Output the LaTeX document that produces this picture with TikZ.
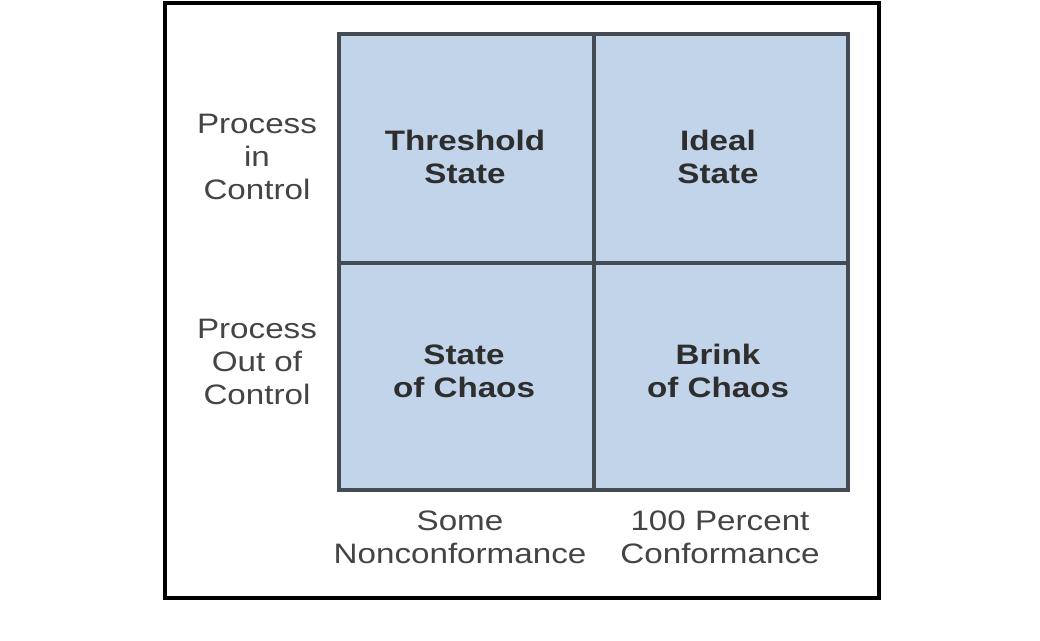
\documentclass[tikz,border=0pt]{standalone}
\usepackage{fontspec}
\setmainfont{Liberation Sans}[FakeStretch=1.18]
\definecolor{cellblue}{HTML}{C2D4EA}
\definecolor{gridgray}{HTML}{454B53}
\definecolor{boldgray}{HTML}{2E2E2E}
\definecolor{labelgray}{HTML}{444444}
\tikzset{
  celltext/.style={font=\fontsize{20}{23.5}\selectfont\bfseries, text=boldgray, align=center, inner sep=0pt},
  axistext/.style={font=\fontsize{20}{23.5}\selectfont, text=labelgray, align=center, inner sep=0pt}
}
\begin{document}
\begin{tikzpicture}[x=0.025cm,y=-0.025cm]
\def\gl{339};%grid left
\def\gr{848};
\def\gt{34};
\def\gb{490};
\def\mx{594};
\def\my{263};
\useasboundingbox (0,0) rectangle (1040,640);
\fill[white] (0,0) rectangle (1040,640);
\draw[line width=2.6pt] (165,3) rectangle (879,598);
\filldraw[fill=cellblue,draw=gridgray,line width=2.3pt] (\gl,\gt) rectangle (\gr,\gb);
\draw[gridgray,line width=2.3pt] (\mx,\gt) -- (\mx,\gb);
\draw[gridgray,line width=2.3pt] (\gl,\my) -- (\gr,\my);
% cell texts
\node[celltext] (threshold) at (465,157) {Threshold\\State};
\node[celltext] (ideal) at (718,157) {Ideal\\State};
\node[celltext] (chaos) at (464,371) {State\\of Chaos};
\node[celltext] (brink) at (718,371) {Brink\\of Chaos};
% axis labels
\node[axistext] (incontrol) at (257,157) {Process\\in\\Control};
\node[axistext] (outcontrol) at (257,362) {Process\\Out of\\Control};
\node[axistext] (some) at (460,537) {Some\\Nonconformance};
\node[axistext] (full) at (720,537) {100 Percent\\Conformance};
\end{tikzpicture}
\end{document}
